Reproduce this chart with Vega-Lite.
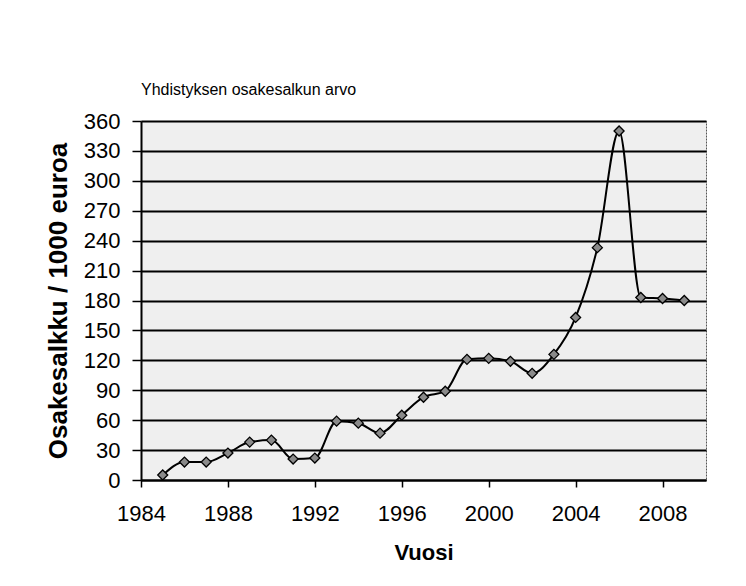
{
  "$schema": "https://vega.github.io/schema/vega-lite/v6.json",
  "autosize": {"type": "none"},
  "width": 565,
  "height": 359,
  "padding": {"left": 141, "top": 121, "right": 40, "bottom": 106},
  "background": "white",
  "title": {
    "text": "Yhdistyksen osakesalkun arvo",
    "anchor": "start",
    "frame": "group",
    "font": "Liberation Sans",
    "fontSize": 16,
    "fontWeight": "normal",
    "color": "black",
    "offset": 12
  },
  "config": {
    "view": {"fill": "#efefef", "stroke": "#555555", "strokeWidth": 1, "strokeDash": [2, 1]},
    "axis": {
      "labelFont": "Liberation Sans",
      "titleFont": "Liberation Sans",
      "labelColor": "black",
      "titleColor": "black",
      "domainColor": "black",
      "tickColor": "black"
    }
  },
  "data": {
    "values": [
      {"vuosi": 1985, "arvo": 5},
      {"vuosi": 1986, "arvo": 18},
      {"vuosi": 1987, "arvo": 18},
      {"vuosi": 1988, "arvo": 27},
      {"vuosi": 1989, "arvo": 38},
      {"vuosi": 1990, "arvo": 40},
      {"vuosi": 1991, "arvo": 21},
      {"vuosi": 1992, "arvo": 22},
      {"vuosi": 1993, "arvo": 59},
      {"vuosi": 1994, "arvo": 57},
      {"vuosi": 1995, "arvo": 47},
      {"vuosi": 1996, "arvo": 65},
      {"vuosi": 1997, "arvo": 83},
      {"vuosi": 1998, "arvo": 89},
      {"vuosi": 1999, "arvo": 121},
      {"vuosi": 2000, "arvo": 122},
      {"vuosi": 2001, "arvo": 119},
      {"vuosi": 2002, "arvo": 107},
      {"vuosi": 2003, "arvo": 126},
      {"vuosi": 2004, "arvo": 163},
      {"vuosi": 2005, "arvo": 233},
      {"vuosi": 2006, "arvo": 350},
      {"vuosi": 2007, "arvo": 183},
      {"vuosi": 2008, "arvo": 182},
      {"vuosi": 2009, "arvo": 180}
    ]
  },
  "encoding": {
    "x": {
      "field": "vuosi",
      "type": "quantitative",
      "scale": {"domain": [1984, 2010], "nice": false, "zero": false},
      "axis": {
        "title": "Vuosi",
        "values": [1984, 1988, 1992, 1996, 2000, 2004, 2008],
        "format": "d",
        "grid": false,
        "labelFlush": false,
        "labelFontSize": 22,
        "labelPadding": 16,
        "tickSize": 7,
        "tickWidth": 1.5,
        "domainWidth": 2,
        "titleFontSize": 22,
        "titleFontWeight": "bold",
        "titlePadding": 18
      }
    },
    "y": {
      "field": "arvo",
      "type": "quantitative",
      "scale": {"domain": [0, 360], "nice": false},
      "axis": {
        "title": "Osakesalkku / 1000 euroa",
        "values": [0, 30, 60, 90, 120, 150, 180, 210, 240, 270, 300, 330, 360],
        "grid": true,
        "gridColor": "black",
        "gridWidth": 2,
        "gridOpacity": 1,
        "labelFlush": false,
        "labelFontSize": 22,
        "labelPadding": 12,
        "tickSize": 9,
        "tickWidth": 1.5,
        "domainWidth": 2,
        "titleFontSize": 26,
        "titleFontWeight": "bold",
        "titlePadding": 12
      }
    }
  },
  "layer": [
    {
      "mark": {"type": "line", "interpolate": "monotone", "color": "black", "strokeWidth": 2}
    },
    {
      "mark": {"type": "point", "shape": "diamond", "filled": true, "fill": "#8a8a8a", "stroke": "black", "strokeWidth": 1.3, "size": 100, "opacity": 1}
    }
  ]
}
